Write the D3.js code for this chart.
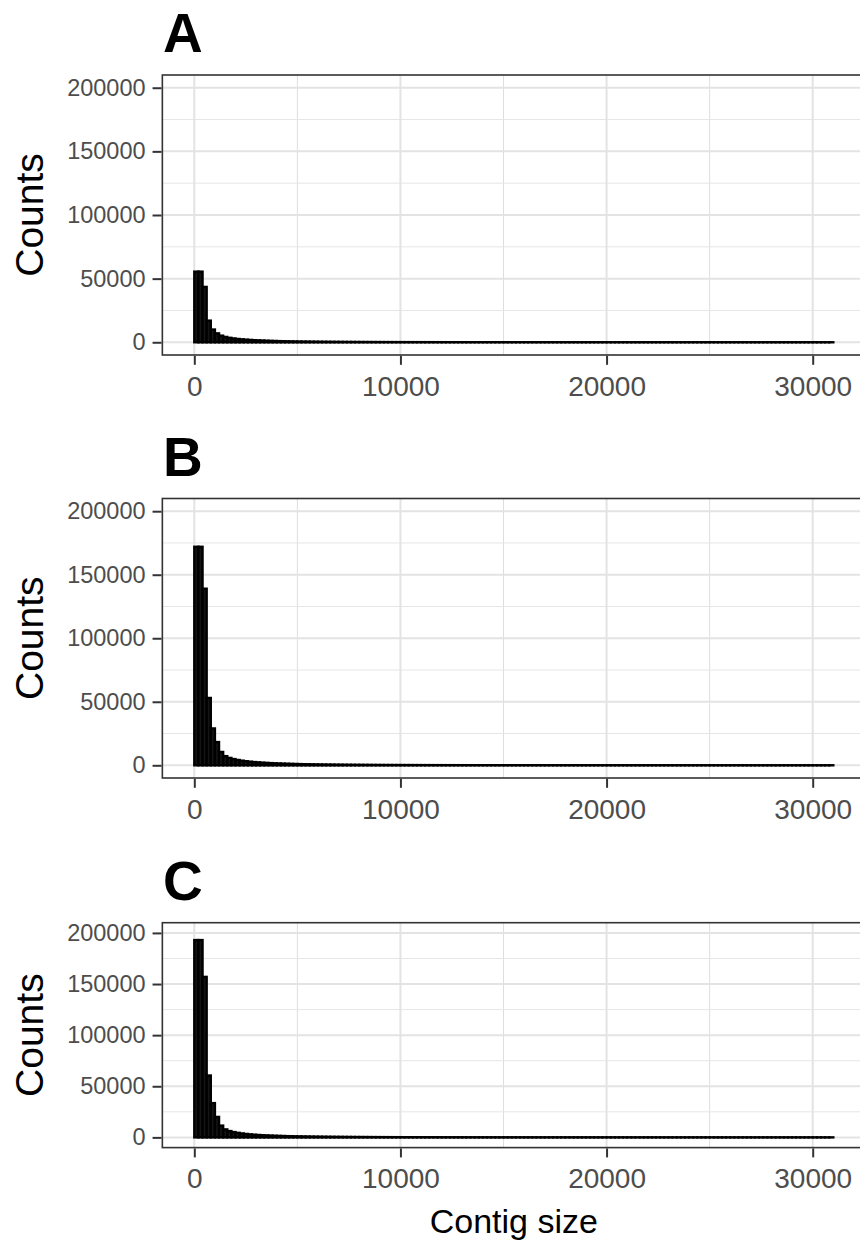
<!DOCTYPE html>
<html>
<head>
<meta charset="utf-8">
<script src="https://cdn.jsdelivr.net/npm/d3@7"></script>
<style>
  body { margin: 0; background: #fff; }
  svg { display: block; }
</style>
</head>
<body>
<script>
// histogram bins: 200 bp wide, starting at 0
const binWidth = 200

// counts per bin
const countsA = [
  55500, 55500, 43500, 17000, 10000, 7000, 5200, 4200, 3500, 3000,
  2600, 2300, 2050, 1850, 1650, 1500, 1350, 1220, 1100, 1000,
  910, 830, 760, 700, 640, 590, 545, 505, 470, 435,
  405, 378, 352, 330, 310, 290,
  270, 252, 236, 221, 207, 194, 182, 171, 161, 152,
  143, 135, 128, 121, 115, 109, 104, 99, 94, 90,
  86, 82, 78, 75, 72, 69, 66, 63, 61, 58,
  56, 54, 52, 50, 48, 47, 45, 44, 42, 41,
  40, 38, 37, 36, 35, 34, 33, 32, 31, 30,
  29, 29, 28, 27, 26, 26, 25, 24, 24, 23,
  23, 22, 22, 21, 21, 20, 20, 19, 19, 18,
  18, 18, 17, 17, 16, 16, 16, 15, 15, 15,
  14, 14, 14, 13, 13, 13, 12, 12, 12, 12,
  11, 11, 11, 11, 10, 10, 10, 10, 9, 9,
  9, 9, 9, 8, 8, 8, 8, 8, 7, 7,
  7, 7, 7, 6, 6, 6, 6, 6, 5
]

const countsB = [
  172000, 172000, 139000, 53000, 29000, 18300, 10500, 7200, 5800, 4900,
  4200, 3650, 3200, 2850, 2550, 2300, 2080, 1890, 1720, 1570,
  1440, 1320, 1210, 1110, 1020, 940, 870, 805, 745, 690,
  640, 595, 555, 518, 484, 452,
  423, 396, 371, 348, 327, 307, 289, 272, 256, 241,
  227, 214, 202, 191, 181, 171, 162, 154, 146, 139,
  132, 126, 120, 114, 109, 104, 99, 95, 91, 87,
  83, 80, 77, 74, 71, 68, 65, 63, 61, 59,
  57, 55, 53, 51, 49, 48, 46, 45, 43, 42,
  41, 40, 39, 38, 37, 36, 35, 34, 33, 32,
  31, 31, 30, 29, 28, 28, 27, 26, 26, 25,
  25, 24, 24, 23, 23, 22, 22, 21, 21, 20,
  20, 19, 19, 19, 18, 18, 17, 17, 17, 16,
  16, 16, 15, 15, 15, 14, 14, 14, 13, 13,
  13, 13, 12, 12, 12, 11, 11, 11, 10, 10,
  10, 10, 9, 9, 9, 9, 8, 8, 8
]

const countsC = [
  193000, 193000, 157000, 60500, 33500, 20000, 11500, 7800, 6200, 5200,
  4450, 3850, 3350, 2950, 2620, 2350, 2120, 1920, 1740, 1590,
  1450, 1330, 1220, 1120, 1030, 950, 880, 815, 755, 700,
  650, 605, 565, 528, 493, 461,
  431, 403, 377, 353, 331, 311, 292, 274, 258, 243,
  229, 216, 204, 193, 182, 172, 163, 155, 147, 140,
  133, 127, 121, 115, 110, 105, 100, 96, 92, 88,
  84, 81, 78, 75, 72, 69, 66, 64, 62, 60,
  58, 56, 54, 52, 50, 49, 47, 46, 44, 43,
  42, 41, 40, 39, 38, 37, 36, 35, 34, 33,
  32, 31, 30, 30, 29, 28, 27, 27, 26, 25,
  25, 24, 24, 23, 23, 22, 22, 21, 21, 20,
  20, 20, 19, 19, 18, 18, 18, 17, 17, 16,
  16, 16, 15, 15, 15, 14, 14, 14, 13, 13,
  13, 12, 12, 12, 11, 11, 11, 10, 10, 10,
  10, 9, 9, 9, 9, 8, 8, 8, 8
]

const xTicks = [0, 10000, 20000, 30000]
const xMinor = [5000, 15000, 25000]
const yTicks = [0, 50000, 100000, 150000, 200000]
const yMinor = [25000, 75000, 125000, 175000]
const tags = ["A", "B", "C"]

const width = 860
const height = 1241
const font = "'Liberation Sans', Arial, Helvetica, sans-serif"

const svg = d3.select("body").append("svg")
    .attr("width", width)
    .attr("height", height)

// x scale shared by all three panels
const x = d3.scaleLinear()
    .domain([0, 30000])
    .range([194.3, 812.7])
const xLo = -1550, xHi = 32550

const panels = [
  { counts: countsA, top: 75, bottom: 355 },
  { counts: countsB, top: 498.5, bottom: 778 },
  { counts: countsC, top: 922.7, bottom: 1147.6 }
]

panels.forEach((p, i) => {
  const y = d3.scaleLinear()
      .domain([-10000, 210000])
      .range([p.bottom, p.top])

  const g = svg.append("g")
  const left = x(xLo), right = x(xHi)

  // minor grid
  g.selectAll(".xminor").data(xMinor).enter().append("line")
      .attr("x1", d => x(d)).attr("x2", d => x(d))
      .attr("y1", p.top).attr("y2", p.bottom)
      .attr("stroke", "#dedede").attr("stroke-width", 1)
  g.selectAll(".yminor").data(yMinor).enter().append("line")
      .attr("y1", d => y(d)).attr("y2", d => y(d))
      .attr("x1", left).attr("x2", right)
      .attr("stroke", "#e6e6e6").attr("stroke-width", 1)
  // major grid
  g.selectAll(".xmajor").data(xTicks).enter().append("line")
      .attr("x1", d => x(d)).attr("x2", d => x(d))
      .attr("y1", p.top).attr("y2", p.bottom)
      .attr("stroke", "#e3e3e3").attr("stroke-width", 2)
  g.selectAll(".ymajor").data(yTicks).enter().append("line")
      .attr("y1", d => y(d)).attr("y2", d => y(d))
      .attr("x1", left).attr("x2", right)
      .attr("stroke", "#e3e3e3").attr("stroke-width", 2)

  // bars
  g.selectAll("rect.bar").data(p.counts).enter().append("rect")
      .attr("class", "bar")
      .attr("x", (d, j) => x(j * binWidth))
      .attr("width", (d, j) => x((j + 1) * binWidth) - x(j * binWidth))
      .attr("y", d => y(d))
      .attr("height", d => y(0) - y(d))
      .attr("fill", "#141414")
      .attr("stroke", "#000")
      .attr("stroke-width", 2.4)

  // panel border
  g.append("rect")
      .attr("x", left).attr("y", p.top)
      .attr("width", right - left).attr("height", p.bottom - p.top)
      .attr("fill", "none").attr("stroke", "#333").attr("stroke-width", 1.6)

  // axes
  const ya = g.append("g")
      .attr("transform", `translate(${left - 0.8},0)`)
      .call(d3.axisLeft(y).tickValues(yTicks).tickSize(9).tickPadding(7).tickFormat(d3.format("d")))
  ya.select(".domain").remove()
  ya.selectAll(".tick line").attr("stroke", "#333").attr("stroke-width", 2)
  ya.selectAll(".tick text").attr("fill", "#4d4d4d")
      .style("font-family", font).style("font-size", "23.5px")

  const xa = g.append("g")
      .attr("transform", `translate(0,${p.bottom + 0.8})`)
      .call(d3.axisBottom(x).tickValues(xTicks).tickSize(9).tickPadding(11).tickFormat(d3.format("d")))
  xa.select(".domain").remove()
  xa.selectAll(".tick line").attr("stroke", "#333").attr("stroke-width", 2)
  xa.selectAll(".tick text").attr("fill", "#4d4d4d")
      .style("font-family", font).style("font-size", "28px")

  // y title
  g.append("text")
      .attr("transform", `translate(43,${(p.top + p.bottom) / 2}) rotate(-90)`)
      .attr("text-anchor", "middle")
      .style("font-family", font).style("font-size", "39px")
      .attr("fill", "#000")
      .text("Counts")

  // panel tag
  g.append("text")
      .attr("x", 163).attr("y", p.top - 23)
      .style("font-family", font).style("font-size", "55px").style("font-weight", "bold")
      .attr("fill", "#000")
      .text(tags[i])
})

svg.append("text")
    .attr("x", (x(xLo) + x(xHi)) / 2)
    .attr("y", 1233)
    .attr("text-anchor", "middle")
    .style("font-family", font).style("font-size", "34px")
    .attr("fill", "#000")
    .text("Contig size")
</script>
</body>
</html>
